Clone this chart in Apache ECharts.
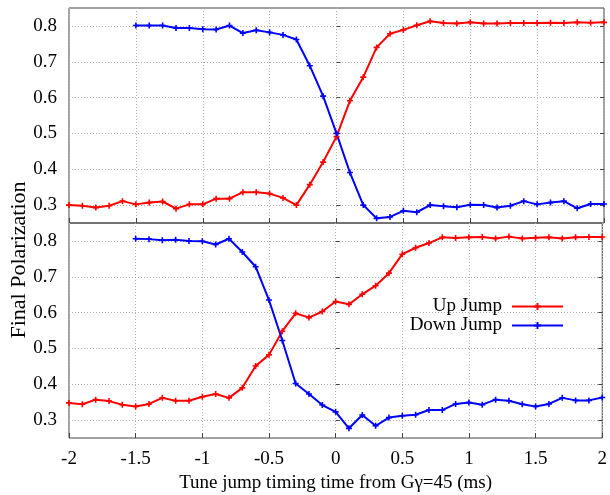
<!DOCTYPE html>
<html lang="en">
<head>
  <meta charset="UTF-8">
  <title>Final Polarization</title>
  <script src="https://cdn.jsdelivr.net/npm/echarts@6/dist/echarts.min.js"></script>
  <style>
    * { margin: 0; padding: 0; }
    #chart { width: 610px; height: 495px; }
  </style>
</head>
<body>
  <div id="chart"></div>
<script>
  // jump timing (ms), full scan and the down-jump scan
  var xAll = [-2, -1.9, -1.8, -1.7, -1.6, -1.5, -1.4, -1.3, -1.2, -1.1,
    -1, -0.9, -0.8, -0.7, -0.6, -0.5, -0.4, -0.3, -0.2, -0.1,
    0, 0.1, 0.2, 0.3, 0.4, 0.5, 0.6, 0.7, 0.8, 0.9,
    1, 1.1, 1.2, 1.3, 1.4, 1.5, 1.6, 1.7, 1.8, 1.9, 2];
  var xDown = [-1.5, -1.4, -1.3, -1.2, -1.1,
    -1, -0.9, -0.8, -0.7, -0.6, -0.5, -0.4, -0.3, -0.2, -0.1,
    0, 0.1, 0.2, 0.3, 0.4, 0.5, 0.6, 0.7, 0.8, 0.9,
    1, 1.1, 1.2, 1.3, 1.4, 1.5, 1.6, 1.7, 1.8, 1.9, 2];

  // top panel
  var upTop = [0.300, 0.298, 0.293, 0.298, 0.311, 0.302, 0.307, 0.310, 0.290, 0.302,
    0.302, 0.318, 0.318, 0.336, 0.336, 0.332, 0.320, 0.300, 0.357, 0.420,
    0.491, 0.591, 0.657, 0.740, 0.778, 0.789, 0.802, 0.813, 0.808, 0.807,
    0.810, 0.807, 0.807, 0.808, 0.808, 0.808, 0.809, 0.808, 0.810, 0.809, 0.810];
  var downTop = [0.801, 0.801, 0.801, 0.794, 0.794,
    0.791, 0.790, 0.801, 0.780, 0.788, 0.782, 0.775, 0.762, 0.689, 0.604,
    0.500, 0.391, 0.300, 0.263, 0.267, 0.284, 0.280, 0.300, 0.297, 0.294,
    0.301, 0.300, 0.293, 0.298, 0.311, 0.302, 0.307, 0.311, 0.291, 0.303, 0.303];

  // bottom panel
  var upBottom = [0.348, 0.344, 0.357, 0.353, 0.343, 0.338, 0.345, 0.362, 0.354, 0.354,
    0.365, 0.373, 0.362, 0.390, 0.451, 0.482, 0.548, 0.598, 0.586, 0.603,
    0.631, 0.623, 0.651, 0.675, 0.710, 0.763, 0.781, 0.794, 0.810, 0.808,
    0.810, 0.811, 0.807, 0.812, 0.807, 0.809, 0.810, 0.807, 0.810, 0.811, 0.811];
  var downBottom = [0.806, 0.805, 0.802, 0.803, 0.800,
    0.799, 0.790, 0.806, 0.769, 0.728, 0.635, 0.522, 0.402, 0.373, 0.342,
    0.323, 0.277, 0.314, 0.284, 0.307, 0.312, 0.315, 0.328, 0.328, 0.345,
    0.349, 0.343, 0.357, 0.354, 0.344, 0.338, 0.345, 0.362, 0.355, 0.355, 0.363];

  var yTicks = [0.3, 0.4, 0.5, 0.6, 0.7, 0.8];

  var font = 'Liberation Serif';
  // small "+" point like gnuplot's
  var plus = 'path://M-0.8,-3H0.8V-0.8H3V0.8H0.8V3H-0.8V0.8H-3V-0.8H-0.8Z';

  function pairs(xs, ys) {
    return xs.map(function (x, i) { return [x, ys[i]]; });
  }

  function xAx(grid, showLabel) {
    return {
      type: 'value', gridIndex: grid, min: -2, max: 2, interval: 0.5,
      axisLine: { show: false },
      axisTick: { show: true, inside: true, length: 5, lineStyle: { color: '#444' } },
      axisLabel: { show: showLabel, margin: 12, color: '#000', fontFamily: font, fontSize: 19 },
      splitLine: { show: true, lineStyle: { color: '#b0b0b0', type: [1, 2], width: 1 } }
    };
  }

  function yAx(grid, right) {
    return {
      type: 'value', gridIndex: grid, min: 0.25, max: 0.85,
      position: right ? 'right' : 'left',
      axisLine: { show: false },
      axisTick: { show: true, inside: true, length: 4, customValues: yTicks, lineStyle: { color: '#444' } },
      axisLabel: { show: !right, margin: 12, customValues: yTicks, color: '#000', fontFamily: font, fontSize: 19 },
      splitLine: { show: !right, lineStyle: { color: '#b0b0b0', type: [1, 2], width: 1 } }
    };
  }

  function line(name, color, xi, yi, data) {
    return {
      name: name, type: 'line', xAxisIndex: xi, yAxisIndex: yi,
      data: data, symbol: plus, symbolSize: 6,
      lineStyle: { color: color, width: 2 },
      itemStyle: { color: color },
      clip: true, animation: false
    };
  }

  var chart = echarts.init(document.getElementById('chart'));

  chart.setOption({
    backgroundColor: '#fff',
    animation: false,
    grid: [
      { left: 69, right: 6, top: 8, height: 215, show: true, borderColor: '#444', borderWidth: 1 },
      { left: 69, right: 6, top: 223, height: 215, show: true, borderColor: '#444', borderWidth: 1 }
    ],
    xAxis: [
      xAx(0, false),
      Object.assign(xAx(1, true), {
        name: 'Tune jump timing time from Gγ=45 (ms)',
        nameLocation: 'middle', nameGap: 36,
        nameTextStyle: { color: '#000', fontFamily: font, fontSize: 19 }
      })
    ],
    yAxis: [yAx(0, false), yAx(0, true), yAx(1, false), yAx(1, true)],
    legend: {
      orient: 'vertical', align: 'right', right: 41, top: 292,
      itemWidth: 51, itemHeight: 9, itemGap: 0,
      data: ['Up Jump', 'Down Jump'],
      textStyle: { color: '#000', fontFamily: font, fontSize: 19, padding: [0, 5, 0, 0] }
    },
    graphic: [{
      type: 'text', x: 19, y: 260, rotation: Math.PI / 2,
      style: {
        text: 'Final Polarization', fill: '#000', font: '22px "Liberation Serif"',
        align: 'center', verticalAlign: 'middle'
      }
    }],
    series: [
      line('Up Jump', '#ff0000', 0, 0, pairs(xAll, upTop)),
      line('Down Jump', '#0000ff', 0, 0, pairs(xDown, downTop)),
      line('Up Jump', '#ff0000', 1, 2, pairs(xAll, upBottom)),
      line('Down Jump', '#0000ff', 1, 2, pairs(xDown, downBottom))
    ]
  });
</script>
</body>
</html>
